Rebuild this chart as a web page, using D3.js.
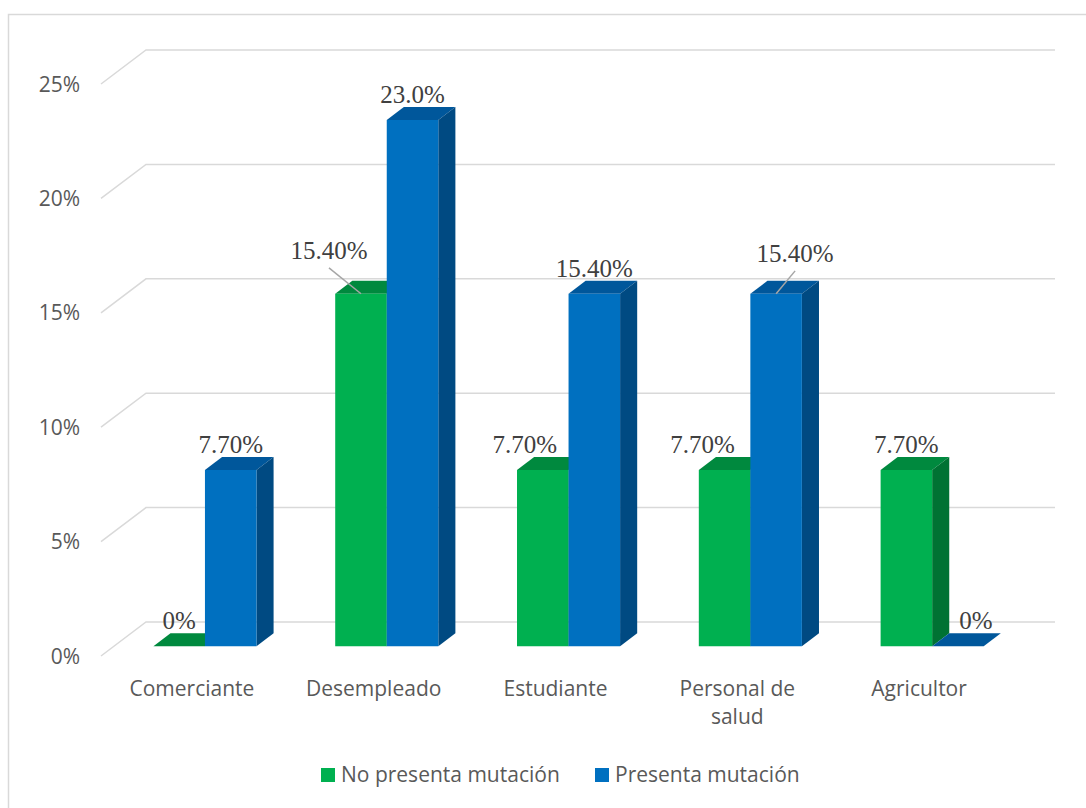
<!DOCTYPE html>
<html lang="es">
  <head>
    <meta charset="UTF-8">
    <title>Ocupación y mutación</title>
    <style>
    * {
      box-sizing: border-box;
      margin: 0;
      padding: 0;
    }

    body {
      background: #fff;
    }

    svg {
      display: block;
    }

    .grid {
      fill: none;
      stroke: #d9d9d9;
      stroke-width: 1.5px;
    }

    .tick-label, .cat-label, .legend text {
      fill: #595959;
      font: 21px "Open Sans", sans-serif;
    }

    .value-label {
      fill: #404040;
      font: 25px "Liberation Serif", "Times New Roman", serif;
      text-anchor: middle;
    }

    .leader {
      stroke: #a6a6a6;
      stroke-width: 1.5px;
    }
    </style>
  </head>
  <body>
    <svg width="1086" height="808"></svg>
    <script src="https://d3js.org/d3.v7.min.js"></script>
    <script>
      const categories = ["Comerciante", "Desempleado", "Estudiante", "Personal de salud", "Agricultor"];
      const noPresenta = [0, 15.4, 7.7, 7.7, 7.7];
      const presenta = [7.7, 23.0, 15.4, 15.4, 0];
      const noPresentaLabels = ["0%", "15.40%", "7.70%", "7.70%", "7.70%"];
      const presentaLabels = ["7.70%", "23.0%", "15.40%", "15.40%", "0%"];
      const yTicks = [0, 5, 10, 15, 20, 25];
      const seriesNames = ["No presenta mutación", "Presenta mutación"];

      // face colours: front, top, side
      const palette = [
        { front: "#00b050", top: "#00893e", side: "#007233" },
        { front: "#0070c0", top: "#00579b", side: "#004a82" }
      ];

      // where Excel moved a few labels away from their bars
      const labelNudge = {
        "0-1": { dx: -32, dy: -18, leader: true },
        "0-2": { dx: -18, dy: 0 },
        "0-3": { dx: -22, dy: 0 },
        "1-3": { dx: 19, dy: -15, leader: true },
        "1-4": { dx: 18, dy: 0 }
      };

      const svg = d3.select("svg");

      // chart frame (only top and left edges are inside the picture)
      svg.append("rect")
        .attr("x", 8.5).attr("y", 14.5)
        .attr("width", 1200).attr("height", 900)
        .attr("fill", "none")
        .attr("stroke", "#d9d9d9")
        .attr("stroke-width", 1.5);

      const depth = { dx: 45, dy: -34 };
      const front = { left: 101, right: 1010 };
      const y = d3.scaleLinear().domain([0, 25]).range([656, 84]);
      const x = d3.scaleBand()
        .domain(categories)
        .range([front.left, front.right])
        .paddingInner(0.433)
        .paddingOuter(0.2165);
      const xs = d3.scaleBand().domain([0, 1]).range([0, x.bandwidth()]);

      function proj(px, v, z) {
        return [px + z * depth.dx, y(v) + z * depth.dy];
      }

      // gridlines: slanted on the floor/wall edge, then flat along the back wall
      const g = svg.append("g");
      g.selectAll(".grid")
        .data(yTicks)
        .enter().append("path")
        .attr("class", "grid")
        .attr("d", d => {
          const a = proj(front.left, d, 0);
          const b = proj(front.left, d, 1);
          const c = proj(front.right, d, 1);
          return `M${a[0]},${a[1]}L${b[0]},${b[1]}L${c[0]},${c[1]}`;
        });

      g.selectAll(".tick-label")
        .data(yTicks)
        .enter().append("text")
        .attr("class", "tick-label")
        .attr("x", 80)
        .attr("y", d => y(d) + 2)
        .attr("text-anchor", "end")
        .attr("dominant-baseline", "middle")
        .text(d => d + "%");

      // bars
      const z0 = 0.29, z1 = 0.67;
      const bars = [];
      categories.forEach((c, i) => {
        [noPresenta[i], presenta[i]].forEach((v, s) => {
          bars.push({ c, i, s, v, label: s === 0 ? noPresentaLabels[i] : presentaLabels[i] });
        });
      });

      const poly = pts => "M" + pts.map(p => p.join(",")).join("L") + "Z";

      const bar = g.selectAll(".bar")
        .data(bars)
        .enter().append("g")
        .attr("class", "bar");

      bar.each(function(d) {
        const x0 = x(d.c) + xs(d.s);
        const x1 = x0 + xs.bandwidth();
        const sel = d3.select(this);
        const col = palette[d.s];
        // top
        sel.append("path")
          .attr("fill", col.top)
          .attr("d", poly([proj(x0, d.v, z0), proj(x1, d.v, z0), proj(x1, d.v, z1), proj(x0, d.v, z1)]));
        if (d.v > 0) {
          // side
          sel.append("path")
            .attr("fill", col.side)
            .attr("d", poly([proj(x1, 0, z0), proj(x1, d.v, z0), proj(x1, d.v, z1), proj(x1, 0, z1)]));
          // front
          sel.append("path")
            .attr("fill", col.front)
            .attr("d", poly([proj(x0, 0, z0), proj(x1, 0, z0), proj(x1, d.v, z0), proj(x0, d.v, z0)]));
        }
      });

      // value labels
      const labels = g.append("g");
      bars.forEach(d => {
        const cx = x(d.c) + xs(d.s) + xs.bandwidth() / 2;
        const topFront = proj(cx, d.v, z0);
        const topBack = proj(cx, d.v, z1);
        const n = labelNudge[d.s + "-" + d.i] || { dx: 0, dy: 0 };
        const lx = topFront[0] + n.dx;
        const ly = topBack[1] - 4 + n.dy;
        if (n.leader) {
          labels.append("line")
            .attr("class", "leader")
            .attr("x1", lx).attr("y1", ly + 9)
            .attr("x2", topFront[0]).attr("y2", topFront[1]);
        }
        labels.append("text")
          .attr("class", "value-label")
          .attr("x", lx)
          .attr("y", ly)
          .text(d.label);
      });

      // category labels, wrapped when too wide
      const catG = g.selectAll(".cat")
        .data(categories)
        .enter().append("text")
        .attr("class", "cat-label")
        .attr("text-anchor", "middle")
        .attr("x", d => x(d) + x.bandwidth() / 2)
        .attr("y", 696);

      catG.each(function(d) {
        const t = d3.select(this);
        const cx = +t.attr("x");
        const words = d.split(" ");
        let line = [];
        let tspan = t.append("tspan").attr("x", cx).attr("dy", 0);
        words.forEach(w => {
          line.push(w);
          tspan.text(line.join(" "));
          if (tspan.node().getComputedTextLength() > 140 && line.length > 1) {
            line.pop();
            tspan.text(line.join(" "));
            line = [w];
            tspan = t.append("tspan").attr("x", cx).attr("dy", 28).text(w);
          }
        });
      });

      // legend
      const legendX = [321, 595];
      const legend = svg.append("g").attr("class", "legend");
      seriesNames.forEach((name, s) => {
        legend.append("rect")
          .attr("x", legendX[s]).attr("y", 768)
          .attr("width", 14).attr("height", 14)
          .attr("fill", palette[s].front);
        legend.append("text")
          .attr("x", legendX[s] + 20)
          .attr("y", 782)
          .text(name);
      });
    </script>
  </body>
</html>
